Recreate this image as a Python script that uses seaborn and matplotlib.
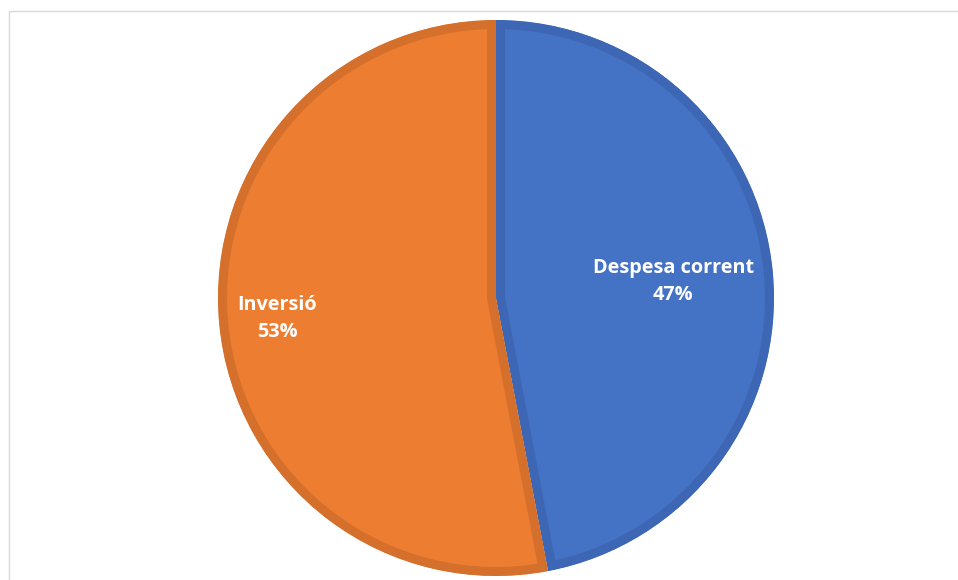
import matplotlib.pyplot as plt
import matplotlib.patches as mpatches
import seaborn as sns
import numpy as np

# dades
categories = ['Despesa corrent', 'Inversió']
values = [47, 53]
colors = ['#4472C4', '#ED7D31']
edge_colors = ['#3D67B5', '#D5702C']
label_radius = [0.64, 0.79]

sns.set_theme(style='white')
plt.rcParams['font.family'] = ['Open Sans', 'DejaVu Sans']

W, H = 958, 580
fig = plt.figure(figsize=(W / 100, H / 100), dpi=100)

# marc gris del gràfic
fig.patches.append(mpatches.Rectangle(
    (8.5 / W, -0.1), 1.2, 1 - 10.5 / H + 0.1, transform=fig.transFigure,
    fill=False, edgecolor='#D9D9D9', linewidth=1.0))

cx, cy, r = 496, 298, 278
ax = fig.add_axes([(cx - r) / W, (H - cy - r) / H, 2 * r / W, 2 * r / H])

wedges, _ = ax.pie(values, colors=colors, startangle=90, counterclock=False,
                   radius=1, wedgeprops=dict(linewidth=13))

total = sum(values)
for w, ec, name, v, lr in zip(wedges, edge_colors, categories, values, label_radius):
    # vora interior: traç retallat pel propi sector
    w.set_edgecolor(ec)
    w.set_clip_path(w)
    w.set_clip_on(True)
    ang = np.deg2rad((w.theta1 + w.theta2) / 2)
    ax.text(lr * np.cos(ang), lr * np.sin(ang),
            f'{name}\n{round(100 * v / total)}%',
            ha='center', va='center', color='white', fontsize=14.3,
            fontweight='bold', linespacing=1.5)

ax.set_xlim(-1, 1)
ax.set_ylim(-1, 1)
ax.set_aspect('equal')
ax.axis('off')

fig.savefig('out.png', dpi=100)
